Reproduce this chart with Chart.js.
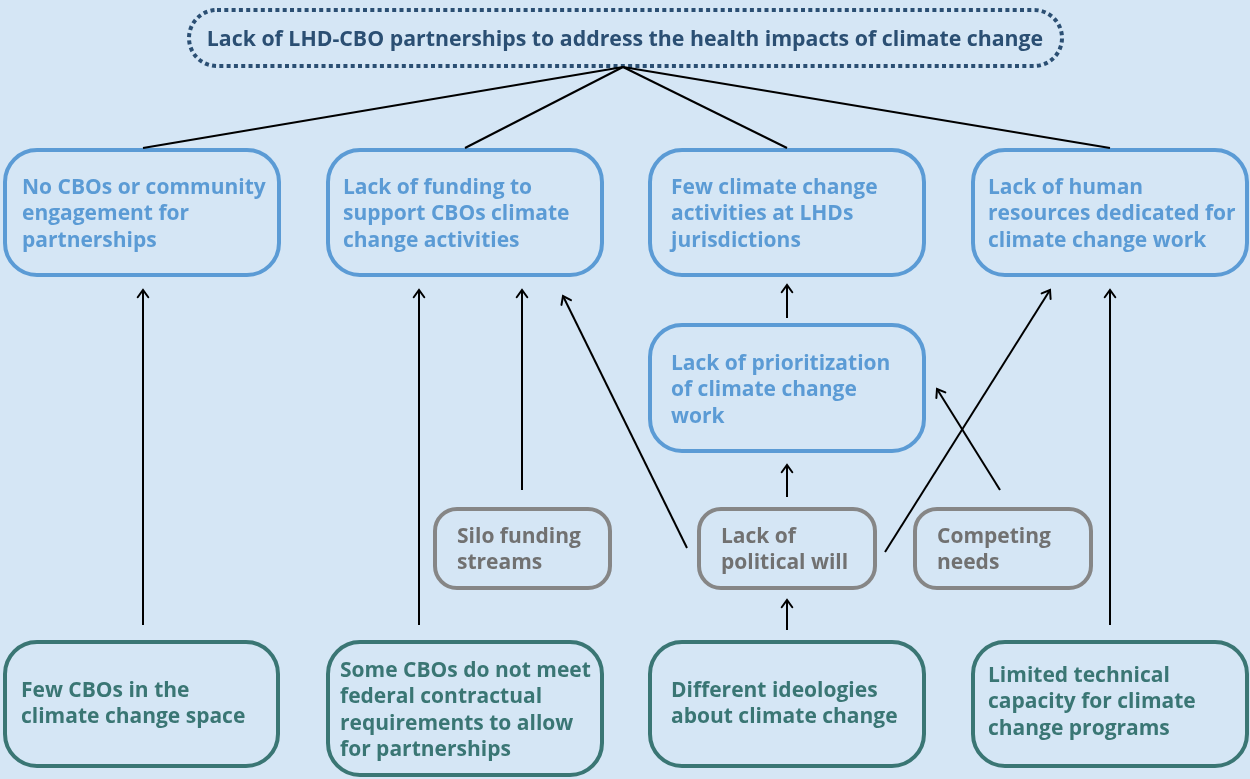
<!DOCTYPE html>
<html lang="en">
<head>
<meta charset="UTF-8">
<title>LHD-CBO partnerships</title>
<script src="https://cdn.jsdelivr.net/npm/chart.js@4/dist/chart.umd.min.js"></script>
<style>
  html, body { margin: 0; padding: 0; background: #d5e6f5; }
  #wrap { width: 1250px; height: 779px; }
</style>
</head>
<body>
<div id="wrap"><canvas id="diagram" width="1250" height="779"></canvas></div>
<script>
// node text, one entry per box (lines already broken as in the figure)
const nodeText = [
  ["Lack of LHD-CBO partnerships to address the health impacts of climate change"],
  ["No CBOs or community", "engagement for", "partnerships"],
  ["Lack of funding to", "support CBOs climate", "change activities"],
  ["Few climate change", "activities at LHDs", "jurisdictions"],
  ["Lack of human", "resources dedicated for", "climate change work"],
  ["Lack of prioritization", "of climate change", "work"],
  ["Silo funding", "streams"],
  ["Lack of", "political will"],
  ["Competing", "needs"],
  ["Few CBOs in the", "climate change space"],
  ["Some CBOs do not meet", "federal contractual", "requirements to allow", "for partnerships"],
  ["Different ideologies", "about climate change"],
  ["Limited technical", "capacity for climate", "change programs"]
];
// kind of each node: problem / cause / factor / root
const nodeKind = ["problem", "cause", "cause", "cause", "cause", "cause",
  "factor", "factor", "factor", "root", "root", "root", "root"];
// box geometry in diagram units (x, y of top-left corner, width, height)
const nodeX = [187, 3, 326, 648, 971, 648, 433, 697, 913, 3, 326, 648, 971];
const nodeY = [8, 148, 148, 148, 148, 323, 507, 507, 507, 640, 640, 640, 640];
const nodeW = [877, 278, 278, 278, 278, 278, 179, 180, 180, 277, 278, 278, 278];
const nodeH = [60, 129, 129, 129, 129, 130, 83, 83, 83, 128, 137, 128, 128];
// text anchor: x of line start (title is centred), y of first line
const textX = [625, 22, 343, 671, 988, 671, 457, 721, 937, 21, 340, 671, 988];
const textY = [40, 188, 188, 188, 188, 364, 537, 537, 537, 691, 671, 691, 676];

// plain connectors from the problem to the four causes
const linkFrom = [[623, 67], [623, 67], [623, 67], [623, 67]];
const linkTo = [[143, 148], [465, 148], [787, 148], [1110, 148]];

// arrows (tail -> head)
const arrowFrom = [[143, 625], [419, 625], [522, 490], [687, 548], [787, 318],
  [787, 497], [885, 552], [1000, 490], [1110, 625], [787, 630]];
const arrowTo = [[143, 290], [419, 290], [522, 290], [563, 296], [787, 285],
  [787, 465], [1050, 290], [937, 389], [1110, 290], [787, 600]];

const styles = {
  problem: { border: "#2b4f73", text: "#2b4f73", width: 4, radius: 28, dash: [4, 3.3] },
  cause:   { border: "#5b9bd5", text: "#5b9bd5", width: 4, radius: 32, dash: [] },
  factor:  { border: "#868686", text: "#717171", width: 4, radius: 22, dash: [] },
  root:    { border: "#3a7674", text: "#3a7674", width: 4, radius: 32, dash: [] }
};
const FONT = "bold 21px 'Open Sans'";
const TITLE_FONT = "bold 21.3px 'Open Sans'";
const LINE_H = 26.5;

function segDataset(a, b) {
  return {
    type: "line",
    data: [{ x: a[0], y: a[1] }, { x: b[0], y: b[1] }],
    borderColor: "#000000",
    borderWidth: 2,
    pointRadius: 0,
    showLine: true,
    fill: false
  };
}

const datasets = [];
linkFrom.forEach((p, i) => datasets.push(segDataset(p, linkTo[i])));
arrowFrom.forEach((p, i) => datasets.push(segDataset(p, arrowTo[i])));

// draws rounded boxes, text and arrowheads on top of the line datasets
const diagramPlugin = {
  id: "diagram",
  beforeDatasetsDraw(chart) {
    const ctx = chart.ctx;
    const sx = chart.scales.x, sy = chart.scales.y;
    ctx.save();
    nodeText.forEach((lines, i) => {
      const st = styles[nodeKind[i]];
      const x0 = sx.getPixelForValue(nodeX[i]);
      const y0 = sy.getPixelForValue(nodeY[i]);
      const x1 = sx.getPixelForValue(nodeX[i] + nodeW[i]);
      const y1 = sy.getPixelForValue(nodeY[i] + nodeH[i]);
      const off = st.width / 2;
      ctx.beginPath();
      ctx.roundRect(x0 + off, y0 + off, x1 - x0 - st.width, y1 - y0 - st.width, st.radius);
      ctx.lineWidth = st.width;
      ctx.strokeStyle = st.border;
      ctx.setLineDash(st.dash);
      ctx.lineCap = "butt";
      ctx.stroke();
      ctx.setLineDash([]);

      ctx.fillStyle = st.text;
      ctx.textBaseline = "middle";
      if (nodeKind[i] === "problem") {
        ctx.font = TITLE_FONT;
        ctx.textAlign = "center";
        ctx.fillText(lines[0], sx.getPixelForValue(textX[i]), sy.getPixelForValue(textY[i]));
      } else {
        ctx.font = FONT;
        ctx.textAlign = "left";
        const tx = sx.getPixelForValue(textX[i]);
        lines.forEach((ln, k) => {
          ctx.fillText(ln, tx, sy.getPixelForValue(textY[i] + k * LINE_H));
        });
      }
    });
    ctx.restore();
  },
  afterDatasetsDraw(chart) {
    const ctx = chart.ctx;
    const sx = chart.scales.x, sy = chart.scales.y;
    ctx.save();
    ctx.strokeStyle = "#000000";
    ctx.lineWidth = 2;
    ctx.lineCap = "round";
    arrowTo.forEach((h, i) => {
      const t = arrowFrom[i];
      const hx = sx.getPixelForValue(h[0]), hy = sy.getPixelForValue(h[1]);
      const tx = sx.getPixelForValue(t[0]), ty = sy.getPixelForValue(t[1]);
      const ang = Math.atan2(hy - ty, hx - tx);
      const len = 9, spread = Math.PI / 5;
      ctx.beginPath();
      ctx.moveTo(hx - len * Math.cos(ang - spread), hy - len * Math.sin(ang - spread));
      ctx.lineTo(hx, hy);
      ctx.lineTo(hx - len * Math.cos(ang + spread), hy - len * Math.sin(ang + spread));
      ctx.stroke();
    });
    ctx.restore();
  }
};

Promise.all([document.fonts.load(FONT), document.fonts.load(TITLE_FONT)]).then(() => {
  new Chart(document.getElementById("diagram"), {
    type: "scatter",
    data: { datasets: datasets },
    plugins: [diagramPlugin],
    options: {
      responsive: false,
      animation: false,
      layout: { padding: 0 },
      plugins: { legend: { display: false }, tooltip: { enabled: false } },
      scales: {
        x: { type: "linear", min: 0, max: 1250, display: false },
        y: { type: "linear", min: 0, max: 779, reverse: true, display: false }
      }
    }
  });
});
</script>
</body>
</html>
